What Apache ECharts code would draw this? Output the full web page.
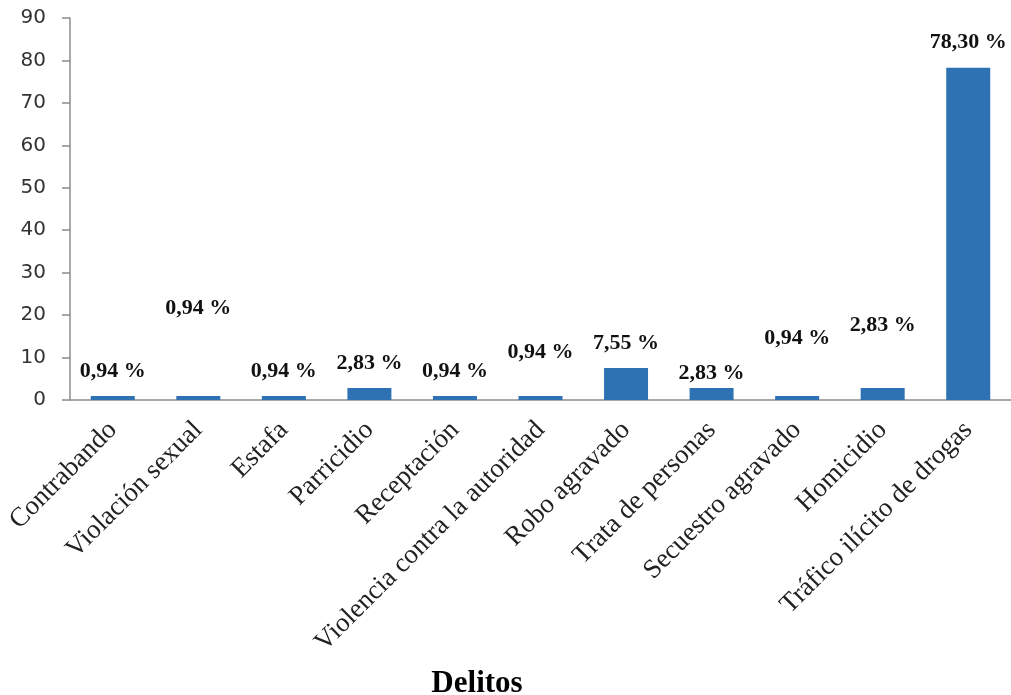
<!DOCTYPE html>
<html>
<head>
<meta charset="utf-8">
<script src="https://cdn.jsdelivr.net/npm/echarts@6/dist/echarts.min.js"></script>
<style>
  html, body { margin: 0; padding: 0; background: #fff; }
  #chart { width: 1011px; height: 695px; }
</style>
</head>
<body>
<div id="chart"></div>
<script>
// datos
const delitos = ['Contrabando', 'Violación sexual', 'Estafa', 'Parricidio', 'Receptación',
  'Violencia contra la autoridad', 'Robo agravado', 'Trata de personas', 'Secuestro agravado',
  'Homicidio', 'Tráfico ilícito de drogas']
const porcentajes = [0.94, 0.94, 0.94, 2.83, 0.94, 0.94, 7.55, 2.83, 0.94, 2.83, 78.30]
const yTicks = [0, 10, 20, 30, 40, 50, 60, 70, 80, 90]

// extra vertical lift (px) of each value label, as placed in the original
const labelLift = [0, 63, 0, 0, 0, 19, 0, -10, 33, 38, 0]

const chart = echarts.init(document.getElementById('chart'))

chart.setOption({
  animation: false,
  grid: { left: 70, right: -4, top: 18, bottom: 295, containLabel: false },
  title: {
    text: 'Delitos',
    left: 472,
    top: 663,
    textAlign: 'center',
    textStyle: { fontFamily: 'Liberation Serif', fontWeight: 'bold', fontSize: 31, color: '#000' },
  },
  xAxis: {
    type: 'category',
    data: delitos,
    axisLine: { lineStyle: { color: '#8c8c8c', width: 1.5 } },
    axisTick: { show: false },
    axisLabel: {
      rotate: 45,
      interval: 0,
      margin: 26,
      fontFamily: 'Liberation Serif',
      fontSize: 27,
      color: '#222',
    },
  },
  yAxis: {
    type: 'value',
    min: yTicks[0],
    max: yTicks[yTicks.length - 1],
    interval: 10,
    splitLine: { show: false },
    axisLine: { show: true, lineStyle: { color: '#8c8c8c', width: 1.5 } },
    axisTick: { show: true, length: 8, lineStyle: { color: '#8c8c8c', width: 1.5 } },
    axisLabel: {
      margin: 24,
      fontFamily: 'DejaVu Sans',
      fontSize: 20,
      color: '#333',
    },
  },
  series: [
    {
      type: 'bar',
      barWidth: 44,
      itemStyle: { color: '#2e72b4' },
      data: porcentajes.map((v, i) => ({
        value: v,
        label: { offset: [0, -labelLift[i]] },
      })),
      label: {
        show: true,
        position: 'top',
        distance: 14,
        fontFamily: 'Liberation Serif',
        fontWeight: 'bold',
        fontSize: 22,
        color: '#111',
        formatter: p => p.value.toFixed(2).replace('.', ',') + ' %',
      },
    },
  ],
})
</script>
</body>
</html>
